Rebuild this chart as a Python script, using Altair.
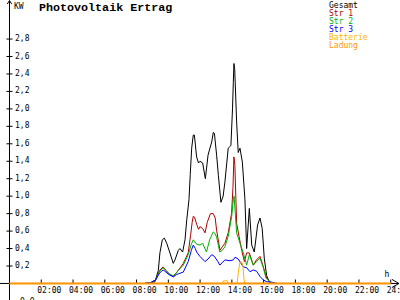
import altair as alt
import pandas as pd

# ---- data (hours of day, kW) ----
gesamt_h = [8.50, 8.72, 8.95, 9.16, 9.37, 9.47, 9.62, 9.75, 9.90, 10.10, 10.31, 10.42, 10.63, 10.73, 10.90,
            11.05, 11.16, 11.30, 11.38, 11.47, 11.57, 11.64, 11.78, 11.90, 11.99, 12.16, 12.33, 12.50, 12.62,
            12.73, 12.83, 12.90, 13.04, 13.15, 13.31, 13.45, 13.56, 13.77, 13.94, 14.04, 14.09, 14.13, 14.18,
            14.30, 14.40, 14.51, 14.66, 14.82, 14.93, 15.10, 15.25, 15.41, 15.62, 15.77, 15.91, 16.04, 16.19,
            16.35, 16.51]
gesamt_kw = [0, 0.01, 0.01, 0.02, 0.15, 0.35, 0.50, 0.52, 0.46, 0.35, 0.23, 0.27, 0.38, 0.40, 0.36,
             0.50, 0.73, 0.96, 1.25, 1.55, 1.70, 1.70, 1.45, 1.38, 1.40, 1.38, 1.20, 1.47, 1.55,
             1.62, 1.73, 1.72, 1.47, 1.24, 0.93, 1.00, 1.16, 1.55, 1.58, 2.00, 2.30, 2.52, 2.45,
             1.85, 1.50, 1.55, 1.39, 0.97, 0.40, 0.86, 0.44, 0.36, 0.67, 0.75, 0.63, 0.29, 0.09,
             0.02, 0]

str1_h = [8.53, 8.90, 9.20, 9.45, 9.67, 9.85, 10.05, 10.31, 10.50, 10.63, 10.94, 11.25, 11.40, 11.50,
          11.57, 11.65, 11.78, 11.90, 11.99, 12.16, 12.31, 12.45, 12.65, 12.83, 12.95, 13.04, 13.25,
          13.40, 13.56, 13.77, 13.98, 14.07, 14.13, 14.19, 14.30, 14.45, 14.62, 14.79, 14.93, 15.10,
          15.35, 15.55, 15.77, 15.98, 16.19, 16.40, 16.55]
str1_kw = [0, 0.01, 0.04, 0.15, 0.19, 0.15, 0.11, 0.08, 0.12, 0.15, 0.23, 0.35, 0.55, 0.70,
           0.77, 0.76, 0.68, 0.62, 0.65, 0.63, 0.58, 0.70, 0.80, 0.80, 0.75, 0.61, 0.38,
           0.42, 0.46, 0.58, 0.80, 1.10, 1.45, 1.35, 0.69, 0.54, 0.38, 0.25, 0.35, 0.35,
           0.21, 0.27, 0.31, 0.19, 0.06, 0.01, 0]

str2_h = [8.53, 8.90, 9.20, 9.45, 9.67, 9.85, 10.05, 10.31, 10.50, 10.63, 10.94, 11.25, 11.45, 11.57,
          11.65, 11.78, 11.99, 12.16, 12.40, 12.60, 12.83, 12.95, 13.04, 13.24, 13.40, 13.56, 13.77,
          13.99, 14.09, 14.14, 14.30, 14.51, 14.72, 14.93, 15.10, 15.35, 15.55, 15.77, 15.98, 16.15,
          16.40, 16.55]
str2_kw = [0, 0.01, 0.04, 0.14, 0.18, 0.15, 0.11, 0.085, 0.12, 0.15, 0.21, 0.33, 0.45, 0.50,
           0.48, 0.45, 0.44, 0.46, 0.36, 0.50, 0.59, 0.57, 0.53, 0.36, 0.38, 0.42, 0.54,
           0.77, 0.96, 1.00, 0.58, 0.46, 0.35, 0.21, 0.33, 0.21, 0.25, 0.29, 0.18, 0.06,
           0.02, 0]

str3_h = [8.53, 8.90, 9.20, 9.45, 9.67, 9.85, 10.05, 10.31, 10.50, 10.63, 10.94, 11.25, 11.45, 11.57,
          11.70, 11.78, 11.99, 12.31, 12.50, 12.73, 12.90, 13.12, 13.24, 13.56, 13.88, 14.09, 14.20,
          14.40, 14.72, 14.93, 15.14, 15.35, 15.56, 15.77, 15.98, 16.19, 16.50, 16.85]
str3_kw = [0, 0.01, 0.04, 0.12, 0.155, 0.13, 0.10, 0.075, 0.10, 0.11, 0.13, 0.25, 0.38, 0.44,
           0.40, 0.36, 0.31, 0.25, 0.28, 0.33, 0.31, 0.25, 0.21, 0.27, 0.26, 0.27, 0.30,
           0.28, 0.19, 0.18, 0.135, 0.155, 0.14, 0.08, 0.04, 0.02, 0.015, 0]

batt_h = [0, 13.40, 13.47, 13.72, 13.78, 14.33, 14.40, 14.50, 14.62, 14.70, 14.76, 14.82, 24]
batt_kw = [0, 0, 0.03, 0.03, 0, 0, 0.12, 0.24, 0.25, 0.20, 0.05, 0, 0]

ladung_h = [0, 24]
ladung_kw = [0, 0]

series = ["Gesamt", "Str 1", "Str 2", "Str 3", "Batterie", "Ladung"]
colors = ["#000000", "#B00000", "#00B000", "#0000FF", "#FFB400", "#FF9600"]

y_ticks = [0.2, 0.4, 0.6, 0.8, 1.0, 1.2, 1.4, 1.6, 1.8, 2.0, 2.2, 2.4, 2.6, 2.8]
x_ticks = [2, 4, 6, 8, 10, 12, 14, 16, 18, 20, 22, 24]

TITLE = "Photovoltaik Ertrag"

# ---- tables ----
rows = []
for name, hs, ks in zip(series,
                        [gesamt_h, str1_h, str2_h, str3_h, batt_h, ladung_h],
                        [gesamt_kw, str1_kw, str2_kw, str3_kw, batt_kw, ladung_kw]):
    assert len(hs) == len(ks), name
    for h, k in zip(hs, ks):
        rows.append({"series": name, "h": h, "kw": k})
df = pd.DataFrame(rows)

ytick_df = pd.DataFrame({"v": y_ticks, "label": [f"{v:.1f}".replace(".", ",") for v in y_ticks]})
xtick_df = pd.DataFrame({"h": x_ticks, "label": [f"{h:02d}:00" for h in x_ticks]})

X = alt.Scale(domain=[-0.598, 24.585], nice=False, zero=False)
Y = alt.Scale(domain=[-0.1895, 3.2474], nice=False, zero=False)
C = alt.Scale(domain=series, range=colors)
one = alt.Data(values=[{}])
MONO = "DejaVu Sans Mono"

def xd(v):
    return alt.XDatum(v, scale=X, axis=None)

def yd(v):
    return alt.YDatum(v, scale=Y, axis=None)

# axes
x_axis = alt.Chart(one).mark_rule(color="black", strokeWidth=1).encode(
    x=xd(-0.598), x2=alt.X2Datum(24.52), y=yd(0))
y_axis = alt.Chart(one).mark_rule(color="black", strokeWidth=1).encode(
    x=xd(0), y=yd(-0.19), y2=alt.Y2Datum(3.241))
y_arrow_l = alt.Chart(one).mark_rule(color="black").encode(
    x=xd(0), x2=alt.X2Datum(-0.14), y=yd(3.241), y2=alt.Y2Datum(3.201))
y_arrow_r = alt.Chart(one).mark_rule(color="black").encode(
    x=xd(0), x2=alt.X2Datum(0.14), y=yd(3.241), y2=alt.Y2Datum(3.201))
x_arrow_u = alt.Chart(one).mark_rule(color="black").encode(
    x=xd(24.52), x2=alt.X2Datum(24.08), y=yd(0), y2=alt.Y2Datum(0.046))
x_arrow_d = alt.Chart(one).mark_rule(color="black").encode(
    x=xd(24.52), x2=alt.X2Datum(24.08), y=yd(0), y2=alt.Y2Datum(-0.046))

ytick_marks = alt.Chart(ytick_df).mark_rule(color="black").encode(
    x=xd(-0.19), x2=alt.X2Datum(0.19), y=alt.Y("v:Q", scale=Y, axis=None))
ytick_labels = alt.Chart(ytick_df).mark_text(
    align="left", baseline="middle", dx=5.5, font=MONO, fontSize=8, color="black").encode(
    x=xd(0), y=alt.Y("v:Q", scale=Y, axis=None), text="label:N")

xtick_marks = alt.Chart(xtick_df).mark_rule(color="black").encode(
    x=alt.X("h:Q", scale=X, axis=None), y=yd(0), y2=alt.Y2Datum(0.045))
xtick_labels = alt.Chart(xtick_df).mark_text(
    align="left", baseline="alphabetic", dx=-4, dy=9.3, font=MONO, fontSize=8, color="black").encode(
    x=alt.X("h:Q", scale=X, axis=None), y=yd(0), text="label:N")

# data lines
main = df[df["series"] != "Ladung"]
lines = alt.Chart(main).mark_line(strokeWidth=1, interpolate="linear").encode(
    x=alt.X("h:Q", scale=X, axis=None),
    y=alt.Y("kw:Q", scale=Y, axis=None),
    color=alt.Color("series:N", scale=C, legend=None),
    detail="series:N",
    order=alt.Order("h:Q"),
)
ladung = alt.Chart(df[df["series"] == "Ladung"]).mark_line(strokeWidth=2).encode(
    x=alt.X("h:Q", scale=X, axis=None),
    y=alt.Y("kw:Q", scale=Y, axis=None),
    color=alt.Color("series:N", scale=C, legend=None),
)

# annotations
title = alt.Chart(one).mark_text(
    text=TITLE, align="left", baseline="alphabetic", font="Liberation Mono",
    fontWeight="bold", fontSize=11.7, color="black").encode(x=alt.value(39), y=alt.value(11))
kw_lbl = alt.Chart(one).mark_text(
    text="KW", align="left", baseline="alphabetic", font=MONO, fontSize=8, color="black").encode(
    x=alt.value(14), y=alt.value(8.5))
h_lbl = alt.Chart(one).mark_text(
    text="h", align="center", baseline="alphabetic", font=MONO, fontSize=8, color="black").encode(
    x=alt.value(387), y=alt.value(277))
zero_lbl = alt.Chart(one).mark_text(
    text="0,0", align="left", baseline="top", font=MONO, fontSize=8, color="black").encode(
    x=alt.value(20), y=alt.value(297.5))

legend_layers = []
for i, (name, col) in enumerate(zip(series, colors)):
    legend_layers.append(
        alt.Chart(one).mark_text(
            text=name, align="left", baseline="alphabetic", font=MONO, fontSize=8, color=col
        ).encode(x=alt.value(329), y=alt.value(7.5 + 8 * i))
    )

chart = alt.layer(
    x_axis, y_axis, y_arrow_l, y_arrow_r, x_arrow_u, x_arrow_d,
    ytick_marks, ytick_labels, xtick_marks, xtick_labels,
    lines, ladung,
    title, kw_lbl, h_lbl, zero_lbl, *legend_layers,
).properties(
    width=400, height=300, padding=0, autosize=alt.AutoSizeParams(type="none"), background="white"
).configure_view(strokeWidth=0)

chart.save("out.html", embed_options={"renderer": "svg", "actions": False})
